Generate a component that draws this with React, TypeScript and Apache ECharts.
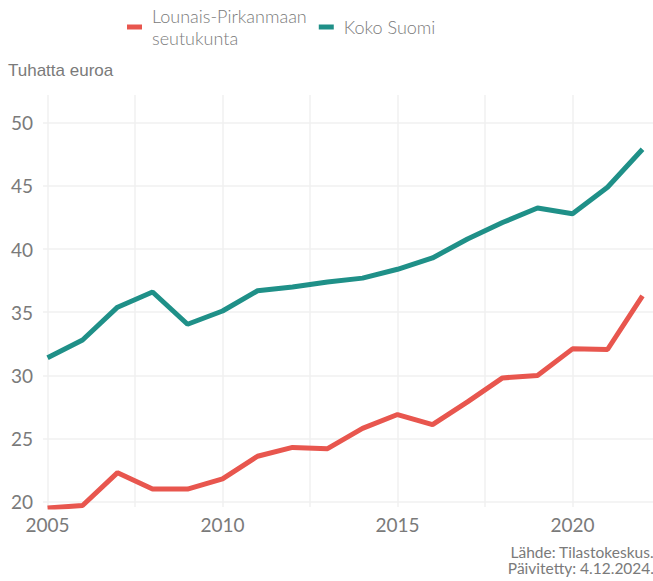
import React, { useEffect, useRef } from "react";
import * as echarts from "echarts";

const years = [2005, 2006, 2007, 2008, 2009, 2010, 2011, 2012, 2013, 2014, 2015, 2016, 2017, 2018, 2019, 2020, 2021, 2022];
const lounais = [19.5, 19.7, 22.3, 21.0, 21.0, 21.8, 23.6, 24.3, 24.2, 25.8, 26.9, 26.1, 27.9, 29.8, 30.0, 32.1, 32.05, 36.3];
const koko = [31.4, 32.8, 35.4, 36.6, 34.05, 35.1, 36.7, 37.0, 37.4, 37.7, 38.4, 39.3, 40.8, 42.1, 43.25, 42.8, 44.9, 47.9];
const seriesNames = ["Lounais-Pirkanmaan\nseutukunta", "Koko Suomi"];
const xLabels = [2005, 2010, 2015, 2020];
const xGrid = [2005, 2007.5, 2010, 2012.5, 2015, 2017.5, 2020];
const yLabels = [20, 25, 30, 35, 40, 45, 50];
const yTitle = "Tuhatta euroa";
const captionLines = ["Lähde: Tilastokeskus.", "Päivitetty: 4.12.2024."];

const RED = "#e8564e";
const TEAL = "#1f9088";
const GRAY = "#7a7a7a";
const GRIDC = "#f0f0f0";

export default function App() {
  const ref = useRef<HTMLDivElement>(null);
  useEffect(() => {
    const chart = echarts.init(ref.current!, null, { renderer: "svg" });
    chart.setOption({
      animation: false,
      backgroundColor: "#ffffff",
      legend: {
        left: 127,
        top: 5,
        padding: 0,
        itemWidth: 15,
        itemHeight: 5,
        itemGap: 12,
        icon: "rect",
        textStyle: { fontFamily: "Lato", fontSize: 18, fontWeight: 300, color: GRAY, lineHeight: 22, padding: [0, 0, 0, 5] },
        data: seriesNames,
      },
      grid: { left: 43, right: 0, top: 95, bottom: 74 },
      xAxis: {
        type: "value",
        min: 2004.87,
        max: 2022.3,
        axisLine: { show: false },
        axisTick: { show: false, customValues: xGrid },
        axisLabel: {
          customValues: xLabels,
          color: GRAY,
          fontFamily: "Lato",
          fontSize: 19,
          margin: 8,
          formatter: (v: number) => String(v),
        },
        splitLine: { show: true, lineStyle: { color: GRIDC, width: 1.5 } },
      },
      yAxis: {
        type: "value",
        min: 19.58,
        max: 52.2,
        axisLine: { show: false },
        axisTick: { show: false, customValues: yLabels },
        axisLabel: { customValues: yLabels, color: GRAY, fontFamily: "Lato", fontSize: 19, margin: 10 },
        splitLine: { show: true, lineStyle: { color: GRIDC, width: 1.5 } },
      },
      graphic: [
        {
          type: "text",
          left: 8,
          top: 62,
          style: { text: yTitle, fill: GRAY, font: "17px 'Liberation Sans'" },
        },
        {
          type: "text",
          right: -1,
          top: 544,
          style: { text: captionLines[0], fill: GRAY, font: "15.5px Lato", align: "right", lineHeight: 15.5 },
        },
        {
          type: "text",
          right: -1,
          top: 560,
          style: { text: captionLines[1], fill: GRAY, font: "15.5px Lato", align: "right", lineHeight: 15.5 },
        },
      ],
      series: [
        {
          name: seriesNames[0],
          type: "line",
          data: years.map((y, i) => [y, lounais[i]]),
          showSymbol: false,
          lineStyle: { color: RED, width: 5 },
          itemStyle: { color: RED },
        },
        {
          name: seriesNames[1],
          type: "line",
          data: years.map((y, i) => [y, koko[i]]),
          showSymbol: false,
          lineStyle: { color: TEAL, width: 5 },
          itemStyle: { color: TEAL },
        },
      ],
    });
    return () => chart.dispose();
  }, []);
  return <div ref={ref} style={{ width: 653, height: 581, position: "absolute", left: 0, top: 0 }} />;
}
